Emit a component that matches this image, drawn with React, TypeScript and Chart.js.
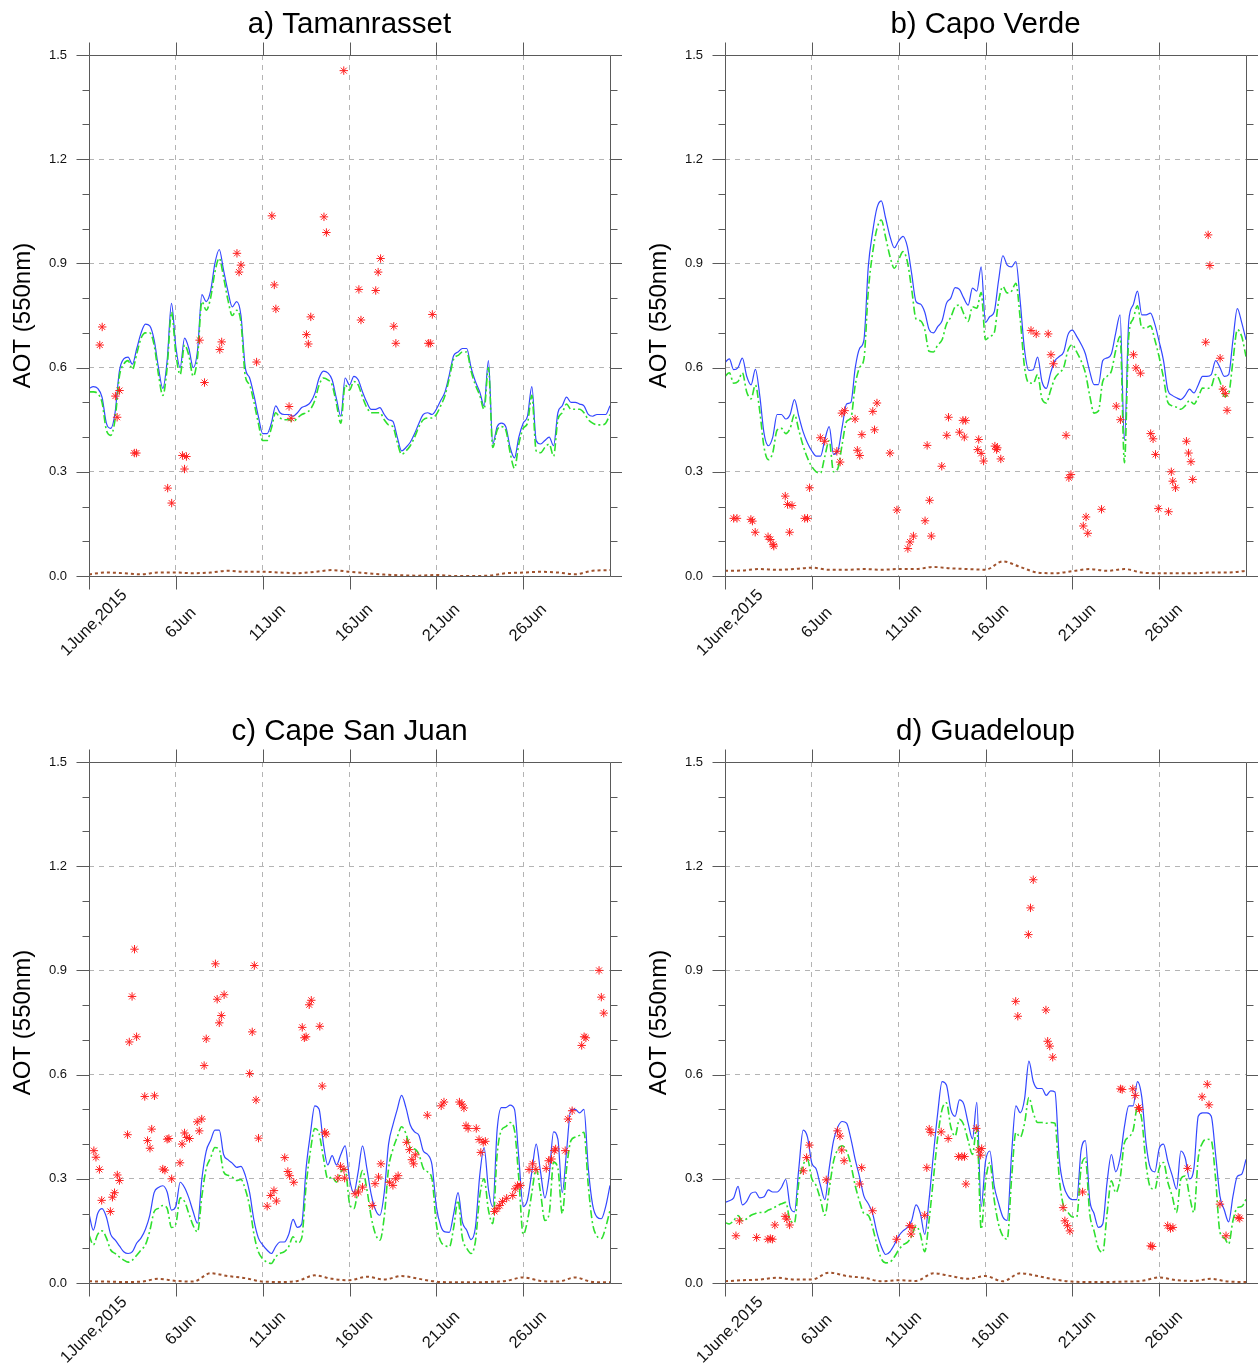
import React, { useEffect, useRef } from 'react';
import { Chart, registerables } from 'chart.js';

Chart.register(...registerables);

// ---------------- data ----------------
const STEP_DAYS = 0.25; // model series: one value every 6 h from 1 June 00Z
const DUST_STEP_DAYS = 1; // brown series: daily

const X_TICK_DAYS = [0, 5, 10, 15, 20, 25];
const X_TICK_LABELS = ['1June,2015', '6Jun', '11Jun', '16Jun', '21Jun', '26Jun'];
const Y_MAJOR = [0, 0.3, 0.6, 0.9, 1.2, 1.5];
const Y_MAJOR_LABELS = ['0.0', '0.3', '0.6', '0.9', '1.2', '1.5'];
const Y_MINOR = [0.1, 0.2, 0.4, 0.5, 0.7, 0.8, 1.0, 1.1, 1.3, 1.4];
const Y_TITLE = 'AOT (550nm)';
const TITLES = ['a) Tamanrasset', 'b) Capo Verde', 'c) Cape San Juan', 'd) Guadeloup'];

const blueA = [0.54,0.545,0.54,0.515,0.44,0.425,0.47,0.59,0.625,0.63,
0.61,0.655,0.70,0.725,0.72,0.68,0.60,0.54,0.62,0.785,
0.66,0.60,0.685,0.655,0.60,0.65,0.81,0.79,0.82,0.90,
0.94,0.88,0.82,0.775,0.79,0.75,0.60,0.57,0.52,0.46,
0.41,0.41,0.44,0.49,0.47,0.465,0.465,0.46,0.47,0.485,
0.49,0.50,0.525,0.57,0.59,0.585,0.565,0.51,0.46,0.57,
0.55,0.575,0.565,0.53,0.50,0.48,0.48,0.485,0.465,0.45,
0.445,0.40,0.36,0.37,0.385,0.41,0.44,0.465,0.47,0.465,
0.48,0.505,0.53,0.58,0.635,0.645,0.655,0.655,0.60,0.56,
0.53,0.49,0.62,0.38,0.43,0.44,0.43,0.37,0.34,0.40,
0.44,0.46,0.545,0.39,0.38,0.39,0.40,0.375,0.47,0.49,
0.515,0.50,0.50,0.495,0.49,0.465,0.46,0.465,0.465,0.465,
0.49];
const greenA = [0.53,0.53,0.525,0.50,0.42,0.405,0.45,0.575,0.61,0.62,
0.595,0.64,0.685,0.70,0.70,0.665,0.58,0.52,0.60,0.76,
0.64,0.58,0.665,0.635,0.575,0.63,0.79,0.765,0.80,0.875,
0.915,0.86,0.795,0.75,0.765,0.73,0.575,0.55,0.50,0.44,
0.39,0.39,0.425,0.47,0.455,0.45,0.45,0.445,0.455,0.465,
0.47,0.48,0.505,0.55,0.57,0.565,0.55,0.495,0.44,0.55,
0.535,0.56,0.55,0.515,0.485,0.47,0.47,0.47,0.45,0.435,
0.43,0.385,0.35,0.36,0.375,0.40,0.43,0.45,0.455,0.455,
0.465,0.49,0.52,0.57,0.625,0.635,0.645,0.645,0.59,0.55,
0.52,0.48,0.60,0.37,0.42,0.43,0.42,0.355,0.31,0.38,
0.425,0.44,0.52,0.36,0.355,0.37,0.38,0.345,0.45,0.47,
0.495,0.48,0.48,0.48,0.47,0.45,0.44,0.435,0.435,0.44,
0.465];
const dustA = [0.005,0.01,0.008,0.005,0.01,0.01,0.008,0.01,0.015,0.012,0.012,0.01,0.008,0.012,0.017,0.012,0.008,0.004,0.002,0.001,0.003,0.0,0.0,0.001,0.008,0.01,0.012,0.01,0.005,0.015,0.017];
const starsA: [number, number][] = [[14.67,1.455],[10.53,1.037],[13.53,1.034],[13.67,0.989],[8.52,0.929],[8.75,0.895],[8.64,0.875],[16.79,0.914],[16.65,0.875],[10.67,0.838],
[15.54,0.825],[16.51,0.822],[10.76,0.769],[12.77,0.746],[15.66,0.737],[17.55,0.719],[19.77,0.753],[0.76,0.717],[0.62,0.665],[1.52,0.518],
[1.76,0.534],[1.62,0.457],[2.73,0.354],[2.61,0.354],[4.53,0.253],[4.76,0.21],[5.38,0.347],[5.61,0.344],[5.5,0.308],[6.37,0.679],
[6.65,0.557],[7.53,0.652],[7.64,0.674],[9.65,0.616],[12.52,0.695],[12.63,0.668],[11.52,0.488],[11.64,0.454],[17.67,0.67],[19.54,0.67],[19.65,0.67]];

const blueB = [0.615,0.625,0.594,0.60,0.627,0.575,0.55,0.595,0.52,0.41,
0.375,0.40,0.465,0.465,0.452,0.465,0.508,0.46,0.415,0.383,
0.36,0.345,0.345,0.393,0.43,0.35,0.36,0.43,0.495,0.50,
0.60,0.655,0.68,0.89,0.99,1.06,1.08,1.03,0.978,0.945,
0.965,0.978,0.948,0.87,0.79,0.783,0.76,0.71,0.70,0.718,
0.735,0.785,0.80,0.83,0.825,0.80,0.78,0.829,0.82,0.89,
0.73,0.747,0.76,0.85,0.922,0.895,0.89,0.905,0.79,0.65,
0.592,0.594,0.63,0.56,0.54,0.585,0.62,0.632,0.645,0.695,
0.708,0.69,0.668,0.64,0.589,0.551,0.551,0.62,0.628,0.64,
0.70,0.752,0.39,0.735,0.78,0.82,0.752,0.752,0.757,0.725,
0.675,0.62,0.535,0.52,0.513,0.508,0.52,0.538,0.527,0.55,
0.575,0.575,0.58,0.62,0.60,0.575,0.58,0.68,0.77,0.73,
0.68];
const greenB = [0.575,0.585,0.555,0.56,0.585,0.53,0.51,0.55,0.475,0.37,
0.335,0.355,0.42,0.425,0.41,0.425,0.465,0.42,0.375,0.34,
0.315,0.30,0.297,0.345,0.39,0.30,0.31,0.38,0.445,0.455,
0.55,0.60,0.625,0.82,0.93,1.0,1.025,0.975,0.92,0.886,
0.91,0.934,0.905,0.825,0.74,0.735,0.71,0.647,0.645,0.665,
0.68,0.725,0.745,0.775,0.78,0.755,0.733,0.775,0.771,0.816,
0.68,0.69,0.70,0.79,0.833,0.815,0.82,0.843,0.74,0.60,
0.556,0.555,0.58,0.51,0.498,0.535,0.57,0.585,0.60,0.65,
0.666,0.645,0.62,0.585,0.52,0.469,0.475,0.56,0.575,0.59,
0.65,0.69,0.326,0.69,0.74,0.778,0.715,0.714,0.72,0.68,
0.63,0.57,0.50,0.49,0.486,0.48,0.49,0.505,0.495,0.515,
0.541,0.54,0.545,0.58,0.56,0.517,0.525,0.62,0.709,0.69,
0.632];
const dustB = [0.015,0.016,0.02,0.018,0.02,0.024,0.018,0.018,0.02,0.018,0.02,0.02,0.026,0.022,0.02,0.018,0.042,0.026,0.01,0.008,0.014,0.02,0.015,0.02,0.01,0.008,0.008,0.008,0.01,0.01,0.015];
const starsB: [number, number][] = [[0.5,0.166],[0.69,0.166],[1.49,0.163],[1.58,0.158],[1.74,0.126],[2.48,0.113],[2.61,0.105],[2.77,0.091],[2.81,0.086],[3.47,0.23],
[3.6,0.206],[3.86,0.203],[3.72,0.126],[4.59,0.166],[4.75,0.166],[4.87,0.254],[5.49,0.398],[5.74,0.388],[6.44,0.359],[6.63,0.328],
[6.73,0.469],[6.89,0.476],[7.49,0.452],[7.62,0.362],[7.76,0.347],[7.88,0.407],[8.51,0.474],[8.75,0.498],[8.61,0.421],[9.5,0.354],
[9.9,0.19],[10.53,0.079],[10.65,0.098],[10.85,0.115],[11.52,0.159],[11.64,0.376],[11.78,0.218],[11.88,0.115],[12.48,0.316],[12.77,0.405],
[12.87,0.457],[13.5,0.414],[13.7,0.448],[13.86,0.448],[13.78,0.4],[14.61,0.393],[14.55,0.364],[14.75,0.353],[14.89,0.331],[15.54,0.374],
[15.68,0.369],[15.64,0.364],[15.88,0.337],[17.62,0.707],[17.92,0.697],[18.61,0.697],[18.77,0.637],[18.91,0.611],[19.64,0.405],[19.8,0.283],
[19.92,0.292],[20.79,0.17],[20.63,0.144],[20.89,0.123],[21.68,0.192],[22.53,0.489],[22.77,0.45],[23.52,0.637],[23.66,0.599],[23.92,0.584],
[24.51,0.41],[24.65,0.395],[24.79,0.35],[24.95,0.194],[25.54,0.185],[25.7,0.3],[25.78,0.273],[25.94,0.254],[26.57,0.388],[26.69,0.354],
[26.83,0.329],[26.93,0.278],[27.68,0.673],[27.82,0.982],[27.92,0.894],[28.51,0.627],[28.67,0.538],[28.81,0.525],[28.91,0.477]];

const blueC = [0.20,0.152,0.20,0.214,0.19,0.14,0.124,0.107,0.09,0.085,
0.09,0.115,0.13,0.155,0.195,0.26,0.275,0.28,0.262,0.21,
0.22,0.29,0.275,0.245,0.205,0.172,0.30,0.38,0.41,0.44,
0.44,0.37,0.355,0.345,0.333,0.336,0.31,0.26,0.18,0.13,
0.11,0.095,0.085,0.105,0.118,0.118,0.14,0.183,0.16,0.17,
0.33,0.43,0.51,0.50,0.40,0.34,0.367,0.34,0.37,0.395,
0.30,0.26,0.32,0.395,0.33,0.255,0.21,0.195,0.26,0.40,
0.455,0.50,0.54,0.505,0.455,0.435,0.425,0.38,0.37,0.34,
0.22,0.165,0.147,0.146,0.20,0.26,0.175,0.152,0.125,0.16,
0.31,0.39,0.27,0.22,0.44,0.505,0.505,0.512,0.50,0.36,
0.22,0.24,0.32,0.40,0.32,0.245,0.31,0.435,0.414,0.26,
0.38,0.50,0.50,0.49,0.50,0.33,0.225,0.19,0.185,0.22,
0.281];
const greenC = [0.138,0.11,0.14,0.15,0.13,0.095,0.085,0.075,0.066,0.06,
0.066,0.08,0.095,0.11,0.15,0.205,0.215,0.223,0.215,0.16,
0.17,0.245,0.235,0.20,0.165,0.147,0.25,0.33,0.36,0.39,
0.385,0.32,0.31,0.305,0.295,0.298,0.27,0.22,0.14,0.09,
0.07,0.06,0.056,0.075,0.085,0.09,0.105,0.133,0.115,0.13,
0.28,0.38,0.445,0.43,0.36,0.30,0.305,0.29,0.32,0.329,
0.23,0.214,0.27,0.324,0.27,0.19,0.14,0.123,0.19,0.33,
0.385,0.42,0.45,0.43,0.39,0.386,0.37,0.33,0.32,0.30,
0.17,0.12,0.108,0.104,0.16,0.238,0.13,0.10,0.085,0.12,
0.25,0.30,0.21,0.171,0.37,0.44,0.45,0.462,0.44,0.30,
0.14,0.18,0.26,0.329,0.26,0.18,0.20,0.348,0.33,0.20,
0.33,0.41,0.42,0.425,0.434,0.28,0.17,0.135,0.128,0.16,
0.209];
const dustC = [0.005,0.004,0.003,0.004,0.012,0.006,0.004,0.028,0.02,0.014,0.004,0.003,0.006,0.022,0.012,0.008,0.018,0.01,0.02,0.012,0.004,0.002,0.002,0.003,0.006,0.016,0.006,0.004,0.016,0.003,0.002];
const starsC: [number, number][] = [[2.62,0.961],[2.48,0.825],[2.32,0.694],[2.74,0.709],[7.28,0.919],[9.52,0.914],[7.38,0.817],[7.78,0.83],[7.62,0.77],[7.5,0.749],
[6.75,0.703],[6.63,0.626],[9.4,0.723],[9.25,0.603],[9.62,0.527],[9.76,0.417],[12.68,0.801],[12.8,0.814],[12.28,0.736],[12.4,0.706],
[12.5,0.709],[13.29,0.739],[13.43,0.567],[13.57,0.434],[13.65,0.429],[3.21,0.537],[3.77,0.539],[2.22,0.427],[3.61,0.443],[3.37,0.41],
[3.51,0.388],[0.28,0.381],[0.4,0.362],[0.6,0.327],[1.63,0.311],[1.75,0.295],[0.73,0.238],[1.23,0.206],[1.35,0.247],[1.47,0.26],
[4.5,0.414],[4.6,0.416],[4.25,0.328],[4.37,0.325],[4.76,0.3],[5.24,0.346],[5.36,0.4],[5.5,0.432],[5.63,0.419],[5.79,0.416],
[6.35,0.438],[6.23,0.464],[6.49,0.472],[11.27,0.361],[11.45,0.321],[11.55,0.309],[11.79,0.29],[10.26,0.221],[10.46,0.252],[10.65,0.266],
[10.79,0.236],[14.48,0.336],[14.68,0.327],[14.33,0.302],[14.72,0.302],[15.32,0.257],[15.52,0.262],[15.75,0.276],[16.31,0.223],[16.47,0.286],
[16.67,0.305],[16.81,0.343],[17.3,0.29],[17.5,0.281],[17.66,0.3],[17.8,0.309],[18.29,0.405],[18.45,0.384],[18.59,0.355],[18.69,0.343],
[18.79,0.369],[19.48,0.483],[20.28,0.51],[20.44,0.521],[21.33,0.521],[21.47,0.515],[21.59,0.504],[21.71,0.453],[21.83,0.445],[22.3,0.445],
[22.46,0.413],[22.7,0.405],[22.82,0.408],[22.56,0.376],[23.35,0.206],[23.49,0.214],[23.65,0.223],[23.81,0.235],[24.05,0.244],[24.4,0.252],
[24.54,0.271],[24.68,0.281],[24.84,0.281],[25.34,0.327],[25.54,0.343],[25.73,0.327],[26.33,0.33],[26.47,0.352],[26.63,0.357],[26.79,0.381],
[26.87,0.386],[27.42,0.381],[27.58,0.472],[27.82,0.496],[28.37,0.684],[28.51,0.709],[28.61,0.706],[29.37,0.9],[29.5,0.823],[29.64,0.777]];

const blueD = [0.232,0.237,0.245,0.278,0.225,0.235,0.258,0.262,0.245,0.248,
0.268,0.262,0.262,0.275,0.298,0.22,0.205,0.33,0.44,0.42,
0.345,0.328,0.28,0.24,0.33,0.41,0.45,0.465,0.46,0.415,
0.355,0.305,0.25,0.228,0.20,0.145,0.105,0.082,0.09,0.11,
0.135,0.15,0.16,0.18,0.225,0.20,0.14,0.24,0.37,0.49,
0.58,0.57,0.50,0.48,0.527,0.515,0.46,0.415,0.52,0.22,
0.35,0.38,0.28,0.23,0.19,0.18,0.37,0.51,0.49,0.53,
0.639,0.58,0.56,0.56,0.54,0.553,0.55,0.356,0.28,0.25,
0.24,0.24,0.38,0.41,0.24,0.20,0.16,0.17,0.29,0.37,
0.32,0.36,0.45,0.51,0.51,0.58,0.535,0.40,0.33,0.32,
0.387,0.40,0.35,0.31,0.27,0.38,0.36,0.30,0.33,0.48,
0.49,0.49,0.48,0.37,0.25,0.21,0.176,0.25,0.307,0.313,
0.356];
const greenD = [0.174,0.17,0.18,0.194,0.179,0.185,0.195,0.20,0.203,0.203,
0.21,0.215,0.222,0.228,0.232,0.18,0.174,0.29,0.34,0.355,
0.30,0.28,0.24,0.195,0.27,0.35,0.385,0.395,0.38,0.34,
0.28,0.235,0.20,0.195,0.16,0.11,0.07,0.058,0.06,0.075,
0.095,0.11,0.117,0.135,0.165,0.14,0.09,0.18,0.30,0.42,
0.50,0.519,0.45,0.423,0.471,0.455,0.41,0.37,0.45,0.155,
0.29,0.347,0.24,0.17,0.135,0.126,0.30,0.433,0.42,0.46,
0.534,0.49,0.462,0.462,0.46,0.462,0.46,0.30,0.22,0.203,
0.19,0.19,0.33,0.36,0.20,0.15,0.10,0.088,0.20,0.294,
0.26,0.30,0.404,0.42,0.44,0.505,0.47,0.34,0.275,0.27,
0.33,0.347,0.29,0.25,0.203,0.30,0.308,0.25,0.203,0.36,
0.404,0.414,0.41,0.30,0.146,0.13,0.112,0.18,0.217,0.22,
0.241];
const dustD = [0.005,0.008,0.01,0.015,0.01,0.01,0.03,0.02,0.015,0.005,0.008,0.006,0.028,0.02,0.012,0.02,0.005,0.028,0.02,0.01,0.004,0.003,0.003,0.004,0.006,0.016,0.008,0.006,0.012,0.004,0.003];
const starsD: [number, number][] = [[17.75,1.161],[17.59,1.08],[17.47,1.003],[16.74,0.811],[16.86,0.768],[18.48,0.786],[18.58,0.696],[18.7,0.682],[18.87,0.65],[22.77,0.559],
[22.87,0.557],[23.48,0.559],[23.62,0.54],[23.81,0.505],[23.87,0.5],[27.77,0.572],[27.47,0.536],[27.87,0.513],[0.63,0.136],[0.83,0.179],
[1.82,0.131],[2.47,0.126],[2.61,0.128],[2.73,0.126],[2.87,0.167],[3.46,0.192],[3.56,0.184],[3.72,0.167],[4.51,0.323],[4.7,0.361],
[4.86,0.397],[5.83,0.297],[6.48,0.438],[6.62,0.423],[6.72,0.383],[6.86,0.352],[7.87,0.332],[7.75,0.285],[8.5,0.208],[9.88,0.126],
[10.63,0.165],[10.77,0.16],[10.71,0.141],[11.5,0.195],[11.62,0.332],[11.76,0.443],[11.86,0.433],[12.45,0.435],[12.85,0.416],[13.44,0.364],
[13.64,0.364],[13.79,0.364],[13.87,0.285],[14.47,0.445],[14.62,0.383],[14.78,0.387],[14.72,0.368],[19.47,0.217],[19.57,0.179],[19.72,0.165],
[19.86,0.15],[20.59,0.262],[24.51,0.107],[24.6,0.105],[25.49,0.165],[25.65,0.157],[25.79,0.16],[26.64,0.33],[28.5,0.227],[28.85,0.136],
[29.55,0.189],[29.64,0.186]];

// ---------------- chart ----------------
const FONT = "'Liberation Sans', Arial, Helvetica, sans-serif";
const CANVAS_W = 622;
const CANVAS_H = 662;

type PanelData = {
  title: string;
  blue: number[];
  green: number[];
  dust: number[];
  stars: [number, number][];
  left: number;
  top: number;
};

const toPoints = (vals: number[], step: number) => vals.map((v, i) => ({ x: i * step, y: v }));

const nclPlugin = {
  id: 'nclFrame',
  afterDraw(chart: any, _args: any, opts: any) {
    const { ctx, chartArea, scales } = chart;
    const { left, right, top, bottom } = chartArea;
    const xs = scales.x;
    const ys = scales.y;
    const L = Math.round(left) + 0.5;
    const R = Math.round(right) + 0.5;
    const T = Math.round(top) + 0.5;
    const B = Math.round(bottom) + 0.5;
    ctx.save();
    ctx.setLineDash([]);
    ctx.strokeStyle = '#5a5a5a';
    ctx.lineWidth = 1;
    ctx.beginPath();
    ctx.rect(L, T, R - L, B - T);
    for (const d of X_TICK_DAYS) {
      const px = Math.round(xs.getPixelForValue(d)) + 0.5;
      ctx.moveTo(px, B); ctx.lineTo(px, B + 13);
      ctx.moveTo(px, T); ctx.lineTo(px, T - 13);
    }
    for (const v of Y_MAJOR) {
      const py = Math.round(ys.getPixelForValue(v)) + 0.5;
      ctx.moveTo(L - 13, py); ctx.lineTo(L, py);
      ctx.moveTo(R, py); ctx.lineTo(R + 13, py);
    }
    for (const v of Y_MINOR) {
      const py = Math.round(ys.getPixelForValue(v)) + 0.5;
      ctx.moveTo(L - 7, py); ctx.lineTo(L, py);
      ctx.moveTo(R, py); ctx.lineTo(R + 7, py);
    }
    ctx.stroke();

    // rotated date labels
    ctx.fillStyle = '#111';
    ctx.font = `16.5px ${FONT}`;
    ctx.textAlign = 'center';
    ctx.textBaseline = 'middle';
    X_TICK_DAYS.forEach((d, i) => {
      const px = xs.getPixelForValue(d);
      ctx.save();
      ctx.translate(px + 5, bottom + 47);
      ctx.rotate(-Math.PI / 4);
      ctx.fillText(X_TICK_LABELS[i], 0, 0);
      ctx.restore();
    });

    // y-axis title
    ctx.save();
    ctx.translate(left - 66, (top + bottom) / 2);
    ctx.rotate(-Math.PI / 2);
    ctx.font = `24px ${FONT}`;
    ctx.fillStyle = '#000';
    ctx.fillText(opts.yTitle, 0, 0);
    ctx.restore();

    // panel title
    ctx.font = `29.5px ${FONT}`;
    ctx.textBaseline = 'alphabetic';
    ctx.fillStyle = '#000';
    ctx.fillText(opts.title, (left + right) / 2, top - 22);
    ctx.restore();
  },
};

function buildConfig(p: PanelData): any {
  return {
    type: 'line',
    data: {
      datasets: [
        {
          label: 'AERONET',
          data: p.stars.map(([d, v]) => ({ x: d, y: v })),
          showLine: false,
          pointStyle: 'star',
          pointRadius: 4.2,
          pointBorderWidth: 1,
          pointBorderColor: '#ff2020',
          pointBackgroundColor: '#ff2020',
          borderColor: '#ff2020',
          backgroundColor: '#ff2020',
        },
        {
          label: 'fine',
          data: toPoints(p.green, STEP_DAYS),
          borderColor: '#2ee02e',
          borderWidth: 1.6,
          borderDash: [8, 3, 2, 3],
          pointRadius: 0,
          fill: false,
          cubicInterpolationMode: 'monotone',
        },
        {
          label: 'total',
          data: toPoints(p.blue, STEP_DAYS),
          borderColor: '#3347ff',
          borderWidth: 1.2,
          pointRadius: 0,
          fill: false,
          cubicInterpolationMode: 'monotone',
        },
        {
          label: 'dust',
          data: toPoints(p.dust, DUST_STEP_DAYS),
          borderColor: '#a0522d',
          borderWidth: 2,
          borderDash: [3, 3],
          pointRadius: 0,
          fill: false,
          cubicInterpolationMode: 'monotone',
        },
      ],
    },
    options: {
      responsive: false,
      animation: false,
      devicePixelRatio: 1,
      events: [],
      layout: { padding: { left: 0, right: 12, top: 55, bottom: 0 } },
      plugins: {
        legend: { display: false },
        tooltip: { enabled: false },
        title: { display: false },
        nclFrame: { title: p.title, yTitle: Y_TITLE },
      },
      scales: {
        x: {
          type: 'linear',
          min: 0,
          max: 30,
          afterBuildTicks: (s: any) => {
            s.ticks = X_TICK_DAYS.map((v) => ({ value: v }));
          },
          afterFit: (s: any) => {
            s.height = CANVAS_H - 576;
          },
          ticks: { display: false },
          grid: {
            drawTicks: false,
            lineWidth: 1,
            color: (c: any) => (c.tick && c.tick.value === 0 ? 'rgba(0,0,0,0)' : '#b4b4b4'),
          },
          border: { display: false, dash: [5, 5] },
        },
        y: {
          type: 'linear',
          min: 0,
          max: 1.5,
          afterBuildTicks: (s: any) => {
            s.ticks = Y_MAJOR.map((v) => ({ value: v }));
          },
          afterFit: (s: any) => {
            s.width = 89;
          },
          ticks: {
            autoSkip: false,
            padding: 22,
            color: '#111',
            font: { family: FONT, size: 13 },
            callback: (_v: any, i: number) => Y_MAJOR_LABELS[i],
          },
          grid: {
            drawTicks: false,
            lineWidth: 1,
            color: (c: any) =>
              c.tick && (c.tick.value === 0 || c.tick.value === 1.5) ? 'rgba(0,0,0,0)' : '#b4b4b4',
          },
          border: { display: false, dash: [5, 5] },
        },
      },
    },
    plugins: [nclPlugin],
  };
}

function Panel({ p }: { p: PanelData }) {
  const ref = useRef<HTMLCanvasElement>(null);
  useEffect(() => {
    if (!ref.current) return;
    const chart = new Chart(ref.current, buildConfig(p));
    return () => chart.destroy();
  }, [p]);
  return (
    <canvas
      ref={ref}
      width={CANVAS_W}
      height={CANVAS_H}
      style={{ position: 'absolute', left: p.left, top: p.top, width: CANVAS_W, height: CANVAS_H }}
    />
  );
}

const PANELS: PanelData[] = [
  { title: TITLES[0], blue: blueA, green: greenA, dust: dustA, stars: starsA, left: 0, top: 0 },
  { title: TITLES[1], blue: blueB, green: greenB, dust: dustB, stars: starsB, left: 636, top: 0 },
  { title: TITLES[2], blue: blueC, green: greenC, dust: dustC, stars: starsC, left: 0, top: 707 },
  { title: TITLES[3], blue: blueD, green: greenD, dust: dustD, stars: starsD, left: 636, top: 707 },
];

export default function App() {
  return (
    <div
      style={{
        position: 'fixed',
        left: 0,
        top: 0,
        width: 1258,
        height: 1369,
        overflow: 'hidden',
        background: '#fff',
      }}
    >
      {PANELS.map((p, i) => (
        <Panel key={i} p={p} />
      ))}
    </div>
  );
}
